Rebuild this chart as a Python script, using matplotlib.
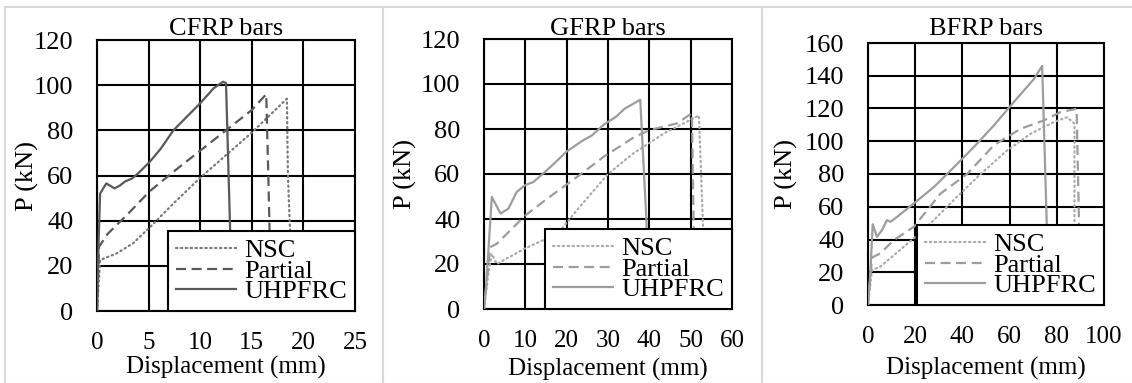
import matplotlib
matplotlib.use("Agg")
import matplotlib.pyplot as plt
from matplotlib.lines import Line2D

plt.rcParams['font.family'] = ['Liberation Serif', 'DejaVu Serif']

# ---------------- data ----------------
titles = ["CFRP bars", "GFRP bars", "BFRP bars"]
series_names = ["NSC", "Partial", "UHPFRC"]

# CFRP
cfrp_nsc_x = [0, 0.3, 1.9, 3.5, 5.1, 7.5, 10, 12.5, 15, 18.4, 18.5, 18.7, 18.8]
cfrp_nsc_y = [0, 22.6, 25.5, 30, 37, 48, 59, 69, 79, 94, 60, 36, 20]
cfrp_par_x = [0, 0.2, 1.0, 3, 5.1, 7.5, 10, 12.5, 15, 16.4, 16.6, 16.8]
cfrp_par_y = [0, 28.5, 34, 43, 53, 62, 71, 80, 89, 96, 60, 20]
cfrp_uh_x = [0, 0.15, 0.3, 0.9, 1.7, 2.2, 2.7, 3.4, 4.0, 5.1, 6.2, 7.4, 8.7, 10.0, 11.3, 12.2, 12.5, 12.9, 13.0]
cfrp_uh_y = [0, 30, 52, 56.5, 54.3, 55.5, 57.3, 58.7, 61, 66, 72, 80, 86, 92, 98.6, 101.5, 101, 36, 0]

# GFRP
gfrp_nsc_x = [0, 1.0, 1.9, 3.1, 10, 16, 19, 22.5, 30, 36, 43.5, 52, 53, 53.2]
gfrp_nsc_y = [0, 15, 24.5, 20, 27, 32, 36, 44, 60, 69, 78, 86, 36, 20]
gfrp_par_x = [0, 1.5, 3.1, 10, 16, 22.5, 29, 36, 40, 46.7, 50.3, 50.7, 51]
gfrp_par_y = [0, 27.5, 29, 41.6, 50, 58.7, 67.7, 76, 79.5, 82.5, 87, 39, 20]
gfrp_uh_x = [0, 0.5, 1.9, 4.0, 5.9, 7.9, 9.9, 12, 16, 20, 24, 26, 29, 32, 34, 37.8, 39.3, 39.5]
gfrp_uh_y = [0, 10, 49.8, 42.4, 44.6, 52, 55, 56.5, 63, 70, 75, 77, 82, 85.5, 89, 93, 39, 20]

# BFRP
bfrp_nsc_x = [0, 1.7, 5.2, 15.1, 25, 36.3, 47.7, 59, 68.9, 78.8, 84.4, 87.5, 87.5, 87.6]
bfrp_nsc_y = [0, 21.3, 23.4, 35.5, 47.7, 64, 80, 94.4, 104.6, 111.7, 114.7, 110.7, 51.8, 20]
bfrp_par_x = [0, 1.7, 5.2, 10.9, 19.4, 30.7, 42, 53.3, 64.6, 74.5, 81.6, 88.4, 89.4, 89.6]
bfrp_par_y = [0, 29, 31.5, 39.6, 47.7, 68, 80, 97.5, 107.6, 112.7, 117.8, 119.8, 50.8, 20]
bfrp_uh_x = [0, 1.0, 2.0, 3.8, 5.9, 8.0, 9.5, 12.3, 19.4, 27.9, 36.3, 44.8, 53.3, 61.8, 70.3, 73.8, 75.7, 76]
bfrp_uh_y = [0, 20, 49.3, 41.6, 45.7, 51.8, 50.8, 53.8, 62, 72, 84, 96.4, 109.6, 124, 138, 146, 51.8, 20]

xlims = [(0, 25, 5), (0, 60, 10), (0, 100, 20)]
ylims = [(0, 120, 20), (0, 120, 20), (0, 160, 20)]

panels = [
    [(cfrp_nsc_x, cfrp_nsc_y), (cfrp_par_x, cfrp_par_y), (cfrp_uh_x, cfrp_uh_y)],
    [(gfrp_nsc_x, gfrp_nsc_y), (gfrp_par_x, gfrp_par_y), (gfrp_uh_x, gfrp_uh_y)],
    [(bfrp_nsc_x, bfrp_nsc_y), (bfrp_par_x, bfrp_par_y), (bfrp_uh_x, bfrp_uh_y)],
]

# ---------------- style / layout ----------------
W, H = 1132, 383
fig = plt.figure(figsize=(W / 100, H / 100), dpi=100)

# axes boxes in pixels: left, right, top, bottom
boxes = [(97, 355, 40, 311), (484, 732, 39, 309), (868, 1104, 43, 305)]
ylabel_x_px = [27, 405, 786]
xlabel_y_px = [367, 369, 368]
title_y_px = [29, 29, 29]

colors = [
    ["#7a7a7a", "#595959", "#595959"],
    ["#ababab", "#9d9d9d", "#9d9d9d"],
    ["#ababab", "#9d9d9d", "#9d9d9d"],
]
styles = [(0, (0.6, 1.6)), (0, (4.5, 2.5)), "-"]
FS = 19
FT = 18

for i in range(3):
    l, r, t, b = boxes[i]
    ax = fig.add_axes([l / W, (H - b) / H, (r - l) / W, (b - t) / H])
    x0, x1, xs = xlims[i]
    y0, y1, ys = ylims[i]
    ax.set_xlim(x0, x1)
    ax.set_ylim(y0, y1)
    ax.set_xticks(range(x0, x1 + 1, xs))
    ax.set_yticks(range(y0, y1 + 1, ys))
    ax.grid(True, color="black", linewidth=1.5)
    ax.set_axisbelow(True)
    for sp in ax.spines.values():
        sp.set_linewidth(1.5)
        sp.set_color("black")
    ax.tick_params(length=0, labelsize=FS)
    ax.tick_params(axis="x", pad=15, labelsize=FT)
    ax.tick_params(axis="y", pad=17)

    for k, (xs_, ys_) in enumerate(panels[i]):
        ax.plot(xs_, ys_, color=colors[i][k], linestyle=styles[k], linewidth=1.6,
                dash_capstyle="round" if k == 0 else "butt", label=series_names[k], zorder=3)

    ax.set_title(titles[i], fontsize=FS, va="center", pad=0,
                 y=(b - title_y_px[i]) / (b - t))
    ax.set_ylabel("P (kN)", fontsize=FS, va="center")
    ax.yaxis.set_label_coords((ylabel_x_px[i] - l) / (r - l), 0.5)
    ax.set_xlabel("Displacement (mm)", fontsize=FT)
    ax.xaxis.label.set_va("center")
    ax.xaxis.set_label_coords(0.5, (b - xlabel_y_px[i]) / (b - t))

    leg = ax.legend(loc="lower right", borderaxespad=0, fontsize=FS, fancybox=False,
                    framealpha=1, edgecolor="black", handlelength=2.3, handletextpad=0.3,
                    labelspacing=-0.12, borderpad=0.3)
    leg.get_frame().set_linewidth(1.5)
    leg.set_zorder(5)

# light gray panel borders
gray = "#d9d9d9"
fig.add_artist(Line2D([5 / W, 1], [1 - 7 / H, 1 - 7 / H], color=gray, linewidth=1.5))
for xp in [5, 383, 762]:
    fig.add_artist(Line2D([xp / W, xp / W], [0, 1 - 7 / H], color=gray, linewidth=1.5))
fig.add_artist(Line2D([5 / W, 1], [0.5 / H, 0.5 / H], color="#ececec", linewidth=1.0))

fig.savefig("out.png", dpi=100)
